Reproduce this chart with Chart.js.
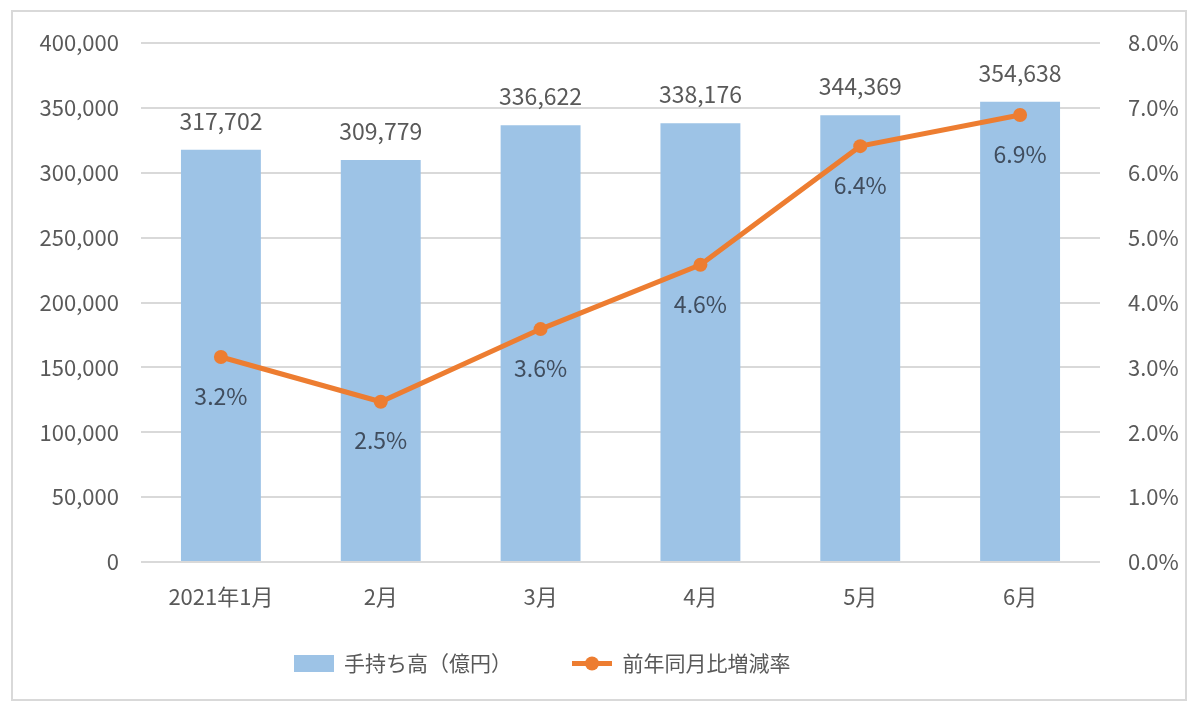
<!DOCTYPE html>
<html>
<head>
<meta charset="utf-8">
<script src="https://cdn.jsdelivr.net/npm/chart.js@4/dist/chart.umd.min.js"></script>
<style>
    body { margin: 0; background: #fff; }
    #frame {
        position: absolute; left: 11px; top: 10px;
        width: 1176px; height: 691px;
        box-sizing: border-box; border: 2px solid #d9d9d9;
    }
</style>
</head>
<body>
<div id="frame"><canvas id="canvas" width="1172" height="687"></canvas></div>
<script>
// データ
const months = ["2021年1月", "2月", "3月", "4月", "5月", "6月"];
const holdings = [317702, 309779, 336622, 338176, 344369, 354638];
const yoyRate = [3.16, 2.47, 3.59, 4.58, 6.41, 6.89];
const seriesNames = ["手持ち高（億円）", "前年同月比増減率"];

const FONT = "'Noto Sans CJK JP', 'Noto Sans', sans-serif";
const BLUE = "#9dc3e6";
const ORANGE = "#ed7d31";

// 凡例アイコン
function barIcon() {
    const c = document.createElement("canvas");
    c.width = 40; c.height = 17;
    const g = c.getContext("2d");
    g.fillStyle = BLUE;
    g.fillRect(0, 0, 40, 17);
    return c;
}
function lineIcon() {
    const c = document.createElement("canvas");
    c.width = 40; c.height = 17;
    const g = c.getContext("2d");
    g.strokeStyle = ORANGE;
    g.lineWidth = 5;
    g.beginPath(); g.moveTo(0, 8.5); g.lineTo(40, 8.5); g.stroke();
    g.fillStyle = ORANGE;
    g.beginPath(); g.arc(20, 8.5, 7, 0, Math.PI * 2); g.fill();
    return c;
}

// データラベル
const valueLabels = {
    id: "valueLabels",
    afterDatasetsDraw(chart) {
        const ctx = chart.ctx;
        ctx.save();
        ctx.textAlign = "center";
        ctx.textBaseline = "middle";
        ctx.font = "23px " + FONT;
        chart.getDatasetMeta(0).data.forEach((bar, i) => {
            ctx.fillStyle = "#595959";
            ctx.fillText(holdings[i].toLocaleString("en-US"), bar.x, bar.y - 29);
        });
        chart.getDatasetMeta(1).data.forEach((pt, i) => {
            ctx.fillStyle = "#404d5e";
            ctx.fillText(yoyRate[i].toFixed(1) + "%", pt.x, pt.y + 39);
        });
        ctx.restore();
    }
};

// 凡例の位置を元の図に合わせる
const legendShift = {
    id: "legendShift",
    afterLayout(chart) {
        const lg = chart.legend;
        lg.left -= 57;
        lg.right -= 57;
        lg.top -= 15;
        lg.bottom -= 15;
    }
};

function fixSide(width) {
    return (s) => {
        s.width = width;
        s.paddingTop = 0;
        s.paddingBottom = 0;
    };
}

const config = {
    data: {
        labels: months,
        datasets: [
            {
                type: "bar",
                label: seriesNames[0],
                data: holdings,
                backgroundColor: BLUE,
                yAxisID: "y",
                categoryPercentage: 1,
                barPercentage: 0.5,
                order: 1,
            },
            {
                type: "line",
                label: seriesNames[1],
                data: yoyRate,
                borderColor: ORANGE,
                backgroundColor: ORANGE,
                borderWidth: 5,
                pointRadius: 7,
                pointHoverRadius: 7,
                pointBorderWidth: 0,
                tension: 0,
                yAxisID: "y1",
                order: 0,
            },
        ],
    },
    options: {
        responsive: false,
        animation: false,
        devicePixelRatio: 1,
        layout: { padding: { top: 31, left: 0, right: 0, bottom: 0 } },
        scales: {
            x: {
                grid: { display: false },
                border: { display: false },
                ticks: { color: "#595959", font: { family: FONT, size: 22 }, padding: 13 },
                afterFit: (s) => { s.height = 46; },
            },
            y: {
                position: "left",
                min: 0,
                max: 400000,
                ticks: {
                    stepSize: 50000,
                    color: "#595959",
                    font: { family: FONT, size: 22 },
                    padding: 22,
                    callback: (v) => v.toLocaleString("en-US"),
                },
                grid: { color: "#d9d9d9", lineWidth: 2, drawTicks: false },
                border: { display: false },
                afterFit: fixSide(128),
            },
            y1: {
                position: "right",
                min: 0,
                max: 8,
                ticks: {
                    stepSize: 1,
                    color: "#595959",
                    font: { family: FONT, size: 22 },
                    padding: 20,
                    callback: (v) => v.toFixed(1) + "%",
                },
                grid: { display: false },
                border: { display: false },
                afterFit: fixSide(85),
            },
        },
        plugins: {
            tooltip: { enabled: false },
            legend: {
                position: "bottom",
                labels: {
                    usePointStyle: true,
                    pointStyleWidth: 40,
                    padding: 60,
                    color: "#595959",
                    font: { family: FONT, size: 21 },
                    generateLabels(chart) {
                        const items = Chart.defaults.plugins.legend.labels.generateLabels(chart);
                        items.sort((a, b) => a.datasetIndex - b.datasetIndex);
                        items[0].pointStyle = barIcon();
                        items[1].pointStyle = lineIcon();
                        return items;
                    },
                },
            },
        },
    },
    plugins: [valueLabels, legendShift],
};

const chart = new Chart(document.getElementById("canvas").getContext("2d"), config);
</script>
</body>
</html>
